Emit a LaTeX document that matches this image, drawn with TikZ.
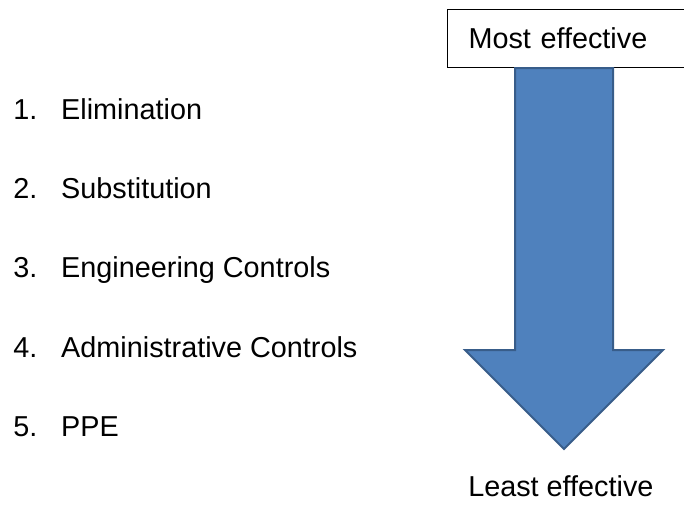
\documentclass[tikz,border=0pt]{standalone}
\usepackage{fontspec}
\setmainfont{Liberation Sans}
\usetikzlibrary{positioning}
\definecolor{arrowfill}{RGB}{79,129,189}
\definecolor{arrowedge}{RGB}{56,93,138}

\begin{document}
\begin{tikzpicture}[
    x=0.75pt, y=-0.75pt,  % pixel grid, y down
    txt/.style={
        inner sep=0pt,
        font=\fontsize{21.6pt}{26pt}\selectfont,
        anchor=base west
    },
    item/.style={
        txt
    },
    labelbox/.style={
        rectangle,
        draw=black,
        line width=0.75pt,
        anchor=north west,
        minimum height=43.5pt,
        inner xsep=15.75pt,
        text width=150.5pt,
        align=left,
        font=\fontsize{21.6pt}{26pt}\selectfont
    },
    blockarrow/.style={
        draw=arrowedge,
        fill=arrowfill,
        line width=1.5pt,
        line join=miter
    }
]
\useasboundingbox (0,0) rectangle (684,504);

% list of controls
\node[item] (e1) at (13,119) {\makebox[36pt][l]{1.}Elimination};
\node[item, below=59.6pt of e1.base west, anchor=base west] (e2) {\makebox[36pt][l]{2.}Substitution};
\node[item, below=59.6pt of e2.base west, anchor=base west] (e3) {\makebox[36pt][l]{3.}Engineering Controls};
\node[item, below=59.6pt of e3.base west, anchor=base west] (e4) {\makebox[36pt][l]{4.}Administrative Controls};
\node[item, below=59.6pt of e4.base west, anchor=base west] (e5) {\makebox[36pt][l]{5.}PPE};

% top label and arrow
\node[labelbox] (most) at (447,9) {Most effective};
\coordinate (top) at (564,68);
\coordinate (tip) at (564,449);
\draw[blockarrow] (515,68) -- (613,68) -- (613,350) -- (663,350)
    -- (tip) -- (465,350) -- (515,350) -- cycle;

\node[txt] (least) at (468,496) {Least effective};

\end{tikzpicture}
\end{document}
